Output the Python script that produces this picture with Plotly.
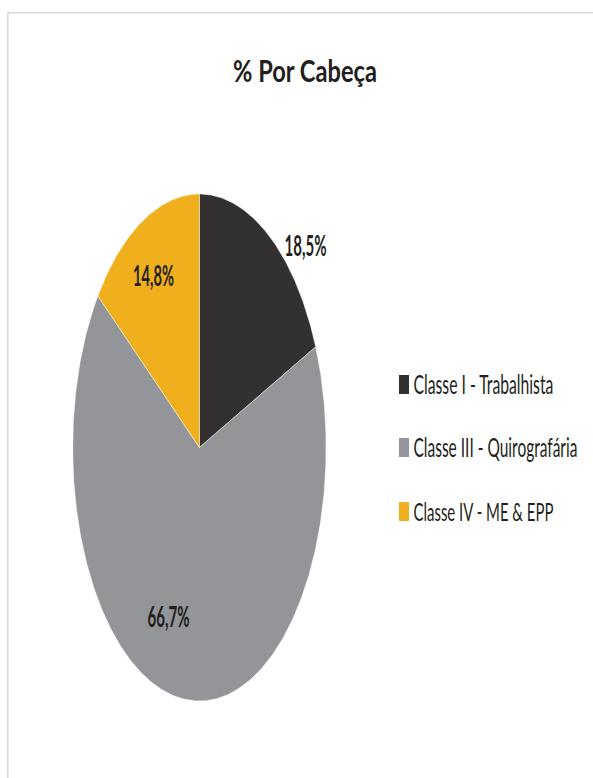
import json
import math
import plotly.graph_objects as go

# Share of creditors per head, by class
categories = ["Classe I - Trabalhista", "Classe III - Quirografária", "Classe IV - ME & EPP"]
shares = [18.5, 66.7, 14.8]
colors = ["#323031", "#939598", "#f0b01d"]
labels = ["18,5%", "66,7%", "14,8%"]
title = "% Por Cabeça"

# label anchor points in unit-pie coordinates (x right, y up)
label_xy = [(0.841, 0.800), (-0.240, -0.664), (-0.362, 0.683)]

W, H = 593, 778
FONT = "Lato, 'Open Sans', sans-serif"
INK = "#231f20"

# rendered width (px) each condensed text is squeezed to, and the side kept fixed
text_fit = {
    title: [144, "center"],
    "18,5%": [42, "center"], "66,7%": [42, "center"], "14,8%": [41, "center"],
    categories[0]: [140, "left"], categories[1]: [164, "left"], categories[2]: [140, "left"],
}


def px(x):
    return x / W


def py(y):
    return 1 - y / H


fig = go.Figure()

# slices start at 12 o'clock and run clockwise
total = sum(shares)
start = 0.0
for name, val, col in zip(categories, shares, colors):
    span = 360.0 * val / total
    n = max(3, int(span * 2))
    xs, ys = [0.0], [0.0]
    for i in range(n + 1):
        t = math.radians(start + span * i / n)
        xs.append(math.sin(t))
        ys.append(math.cos(t))
    xs.append(0.0)
    ys.append(0.0)
    fig.add_trace(go.Scatter(
        x=xs, y=ys, mode="lines", fill="toself", fillcolor=col,
        line=dict(color="rgba(255,255,255,0.55)", width=0.8),
        name=name, hoverinfo="name", showlegend=False,
    ))
    start += span

# slice value labels
for (lx, ly), txt in zip(label_xy, labels):
    fig.add_annotation(
        x=lx, y=ly, xref="x", yref="y", text=f"<b>{txt}</b>", showarrow=False,
        font=dict(family=FONT, size=29, color=INK),
    )

# legend: colour keys and names
rows_y = [384.5, 447.5, 511.5]
for ry, name, col in zip(rows_y, categories, colors):
    fig.add_shape(type="rect", xref="paper", yref="paper",
                  x0=px(399), x1=px(409), y0=py(ry - 9.5), y1=py(ry + 9.5),
                  fillcolor=col, line=dict(width=0))
    fig.add_annotation(
        x=px(413), y=py(ry - 0.5), xref="paper", yref="paper", text=name,
        showarrow=False, xanchor="left", yanchor="middle", align="left",
        font=dict(family=FONT, size=26, color=INK),
    )

# chart-area frame (top and left edges)
fig.add_shape(type="line", xref="paper", yref="paper",
              x0=px(7.5), x1=1, y0=py(12.8), y1=py(12.8),
              line=dict(color="#d9d9d9", width=1.6))
fig.add_shape(type="line", xref="paper", yref="paper",
              x0=px(7.8), x1=px(7.8), y0=py(12.8), y1=0,
              line=dict(color="#d9d9d9", width=1.6))

fig.update_layout(
    width=W, height=H,
    margin=dict(l=0, r=0, t=0, b=0),
    paper_bgcolor="white", plot_bgcolor="white",
    showlegend=False,
    title=dict(text=f"<b>{title}</b>", x=px(305), xanchor="center",
               y=py(71), yanchor="middle",
               font=dict(family=FONT, size=31, color=INK)),
    xaxis=dict(range=[-1, 1], domain=[px(72.7), px(326.1)], visible=False,
               fixedrange=True),
    yaxis=dict(range=[-1, 1], domain=[py(701), py(194)], visible=False,
               fixedrange=True),
)

# narrow the tall text horizontally; the "left" ones keep their left edge,
# which is moved back onto the annotation's anchor point
condense_js = """
var gd = document.getElementById('{plot_id}');
var fit = %s;
function condense() {
  gd.querySelectorAll('text').forEach(function (t) {
    var f = fit[t.textContent];
    if (!f) return;
    t.style.transform = '';
    var bb = t.getBBox();
    if (!bb.width) return;
    var s = f[0] / bb.width;
    t.style.transformBox = 'fill-box';
    if (f[1] === 'left') {
      var g = t.closest('.annotation-text-g');
      var bg = g ? g.querySelector('rect.bg') : null;
      var shift = bg ? (bb.x - parseFloat(bg.getAttribute('x') || 0)) : 0;
      t.style.transformOrigin = 'left center';
      t.style.transform = 'translateX(' + (-shift) + 'px) scale(' + s + ', 1)';
    } else {
      t.style.transformOrigin = 'center center';
      t.style.transform = 'scale(' + s + ', 1)';
    }
  });
}
condense();
gd.on('plotly_afterplot', condense);
""" % json.dumps(text_fit, ensure_ascii=False)

fig.write_html("out.html", post_script=condense_js)
